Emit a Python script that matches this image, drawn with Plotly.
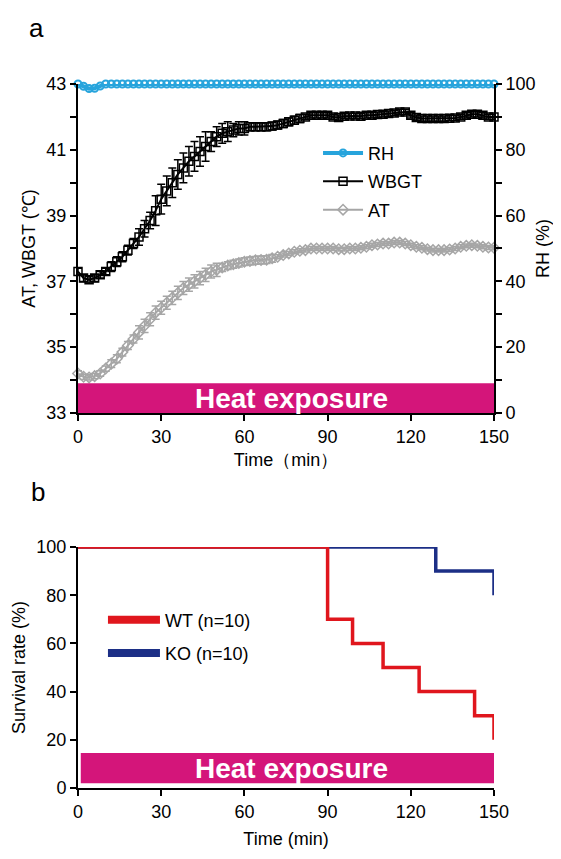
import plotly.graph_objects as go

# ---------------- data (panel a) ----------------
time_a = list(range(0, 152, 2))
rh = [100, 99.3, 98.6, 98.7, 99.4, 100] + [100] * 70
wbgt = [37.3, 37.1, 37.05, 37.1, 37.2, 37.3, 37.45, 37.6, 37.75, 37.95,
        38.15, 38.35, 38.6, 38.85, 39.15, 39.5, 39.75, 40.0, 40.25, 40.45,
        40.65, 40.8, 40.95, 41.1, 41.25, 41.4, 41.5, 41.55, 41.6, 41.65,
        41.65, 41.7, 41.7, 41.7, 41.7, 41.72, 41.75, 41.8, 41.85, 41.9,
        41.95, 42.0, 42.05, 42.05, 42.05, 42.05, 42.0, 41.98, 42.02, 42.03,
        42.03, 42.02, 42.05, 42.05, 42.07, 42.08, 42.1, 42.12, 42.15, 42.15,
        42.05, 41.98, 41.95, 41.95, 41.95, 41.95, 41.95, 41.96, 41.97, 42.0,
        42.05, 42.08, 42.08, 42.05, 42.0, 42.0]
wbgt_err = [0.1] * 6 + [0.15] * 5 + [0.25] * 3 + [0.45] * 10 + [0.3] * 4 + [0.2] * 3 + \
           [0.12] * 10 + [0.08] * 35
at = [34.2, 34.1, 34.08, 34.12, 34.2, 34.35, 34.5, 34.65, 34.85, 35.05,
      35.25, 35.45, 35.65, 35.85, 36.05, 36.2, 36.35, 36.5, 36.65, 36.8,
      36.9, 37.0, 37.1, 37.2, 37.3, 37.35, 37.42, 37.48, 37.52, 37.56,
      37.6, 37.62, 37.64, 37.65, 37.66, 37.7, 37.75, 37.8, 37.85, 37.9,
      37.93, 37.95, 38.0, 38.0, 38.0, 38.0, 38.0, 37.98, 37.98, 38.0,
      38.0, 38.02, 38.05, 38.1, 38.12, 38.15, 38.15, 38.18, 38.18, 38.15,
      38.1, 38.05, 38.02, 37.98, 37.95, 37.95, 37.95, 37.97, 38.0, 38.05,
      38.08, 38.1, 38.08, 38.05, 38.03, 38.02]
at_err = [0.08] * 6 + [0.12] * 5 + [0.2] * 15 + [0.12] * 10 + [0.06] * 40

# ---------------- data (panel b) ----------------
wt_time = [0, 90, 99, 110, 123, 143, 150]
wt_surv = [100, 70, 60, 50, 40, 30, 20]
ko_time = [0, 129, 150]
ko_surv = [100, 90, 80]

heat_start, heat_end = 0, 150

FONT = "Arial, Liberation Sans, sans-serif"
BLUE = "#27A4DC"
GRAY = "#A6A6A6"
MAGENTA = "#D4157A"
RED = "#E0161D"
NAVY = "#1C2F86"
FS = 18

fig = go.Figure()

fig.add_trace(go.Scatter(
    x=time_a, y=rh, name="RH", mode="lines+markers", yaxis="y2", xaxis="x",
    line=dict(color=BLUE, width=4),
    marker=dict(symbol="circle-open", size=7, color=BLUE, line=dict(width=2)),
    cliponaxis=False, legend="legend", legendgroup="rh"))
fig.add_trace(go.Scatter(
    x=time_a, y=wbgt, name="WBGT", mode="lines+markers", xaxis="x", yaxis="y",
    line=dict(color="black", width=2),
    marker=dict(symbol="square-open", size=8, color="black", line=dict(width=1.5)),
    error_y=dict(type="data", array=wbgt_err, color="black", thickness=1.5, width=4),
    cliponaxis=False, legend="legend", legendgroup="wbgt"))
fig.add_trace(go.Scatter(
    x=time_a, y=at, name="AT", mode="lines+markers", xaxis="x", yaxis="y",
    line=dict(color=GRAY, width=2),
    marker=dict(symbol="diamond-open", size=8, color=GRAY, line=dict(width=1.5)),
    error_y=dict(type="data", array=at_err, color=GRAY, thickness=1.5, width=4),
    cliponaxis=False, legend="legend", legendgroup="at"))

# panel b
fig.add_trace(go.Scatter(
    x=ko_time, y=ko_surv, mode="lines", line=dict(color=NAVY, width=3.5, shape="hv"),
    xaxis="x2", yaxis="y3", showlegend=False, cliponaxis=False))
fig.add_trace(go.Scatter(
    x=wt_time, y=wt_surv, mode="lines", line=dict(color=RED, width=3.5, shape="hv"),
    xaxis="x2", yaxis="y3", showlegend=False, cliponaxis=False))
fig.add_trace(go.Scatter(
    x=[None], y=[None], name="WT (n=10)", mode="lines", line=dict(color=RED, width=8),
    xaxis="x2", yaxis="y3", legend="legend2", legendgroup="wt"))
fig.add_trace(go.Scatter(
    x=[None], y=[None], name="KO (n=10)", mode="lines", line=dict(color=NAVY, width=8),
    xaxis="x2", yaxis="y3", legend="legend2", legendgroup="ko"))

# heat exposure bars
fig.add_shape(type="rect", xref="x", yref="y", x0=heat_start, x1=heat_end, y0=33, y1=33.9,
              fillcolor=MAGENTA, line=dict(width=0), layer="above")
fig.add_annotation(xref="x", yref="y", x=77, y=33.45, text="<b>Heat exposure</b>",
                   showarrow=False, font=dict(family=FONT, size=28, color="white"))
fig.add_shape(type="rect", xref="x2", yref="y3", x0=heat_start + 1, x1=heat_end, y0=2, y1=14.5,
              fillcolor=MAGENTA, line=dict(width=0), layer="above")
fig.add_annotation(xref="x2", yref="y3", x=77, y=8.2, text="<b>Heat exposure</b>",
                   showarrow=False, font=dict(family=FONT, size=28, color="white"))

# panel labels
fig.add_annotation(xref="paper", yref="paper", x=-0.1226, y=1.104, text="a", showarrow=False,
                   font=dict(family=FONT, size=26, color="black"))
fig.add_annotation(xref="paper", yref="paper", x=-0.118, y=0.4205, text="b", showarrow=False,
                   font=dict(family=FONT, size=26, color="black"))

axis_common = dict(showline=True, linecolor="black", linewidth=2, ticks="outside",
                   ticklen=6, tickwidth=2, tickcolor="black", showgrid=False, zeroline=False,
                   automargin=False,
                   tickfont=dict(family=FONT, size=FS, color="black"))

fig.update_layout(
    width=553, height=851,
    margin=dict(l=70, r=67, t=76, b=71, autoexpand=False),
    plot_bgcolor="white", paper_bgcolor="white",
    font=dict(family=FONT, size=FS, color="black"),
    xaxis=dict(domain=[0, 1], anchor="y", range=[0, 150], tickvals=[0, 30, 60, 90, 120, 150],
               title=dict(text="Time（min）", font=dict(family=FONT, size=FS), standoff=8),
               **axis_common),
    yaxis=dict(domain=[0.5327, 1], anchor="x", range=[33, 43], tickvals=[33, 35, 37, 39, 41, 43],
               minor=dict(tickvals=[34, 36, 38, 40, 42], ticks="outside", ticklen=6, tickwidth=2,
                          tickcolor="black"),
               title=dict(text="AT, WBGT (℃)", font=dict(family=FONT, size=FS), standoff=6),
               **axis_common),
    yaxis2=dict(overlaying="y", side="right", anchor="x", range=[0, 100],
                tickvals=[0, 20, 40, 60, 80, 100],
                minor=dict(tickvals=[10, 30, 50, 70, 90], ticks="outside", ticklen=6, tickwidth=2,
                           tickcolor="black"),
                title=dict(text="RH (%)", font=dict(family=FONT, size=FS), standoff=2),
                **axis_common),
    xaxis2=dict(domain=[0, 1], anchor="y3", range=[0, 150], tickvals=[0, 30, 60, 90, 120, 150],
                title=dict(text="Time (min)", font=dict(family=FONT, size=FS), standoff=12),
                **axis_common),
    yaxis3=dict(domain=[0, 0.3423], anchor="x2", range=[0, 100],
                tickvals=[0, 20, 40, 60, 80, 100],
                title=dict(text="Survival rate (%)", font=dict(family=FONT, size=FS), standoff=6),
                **axis_common),
    legend=dict(x=0.577, y=0.928, xanchor="left", yanchor="top", bgcolor="rgba(0,0,0,0)",
                font=dict(family=FONT, size=FS, color="black"), tracegroupgap=2,
                itemwidth=40),
    legend2=dict(x=0.06, y=0.265, xanchor="left", yanchor="top", bgcolor="rgba(0,0,0,0)",
                 font=dict(family=FONT, size=FS, color="black"), tracegroupgap=7,
                 itemwidth=52),
)

fig.write_html("out.html")
